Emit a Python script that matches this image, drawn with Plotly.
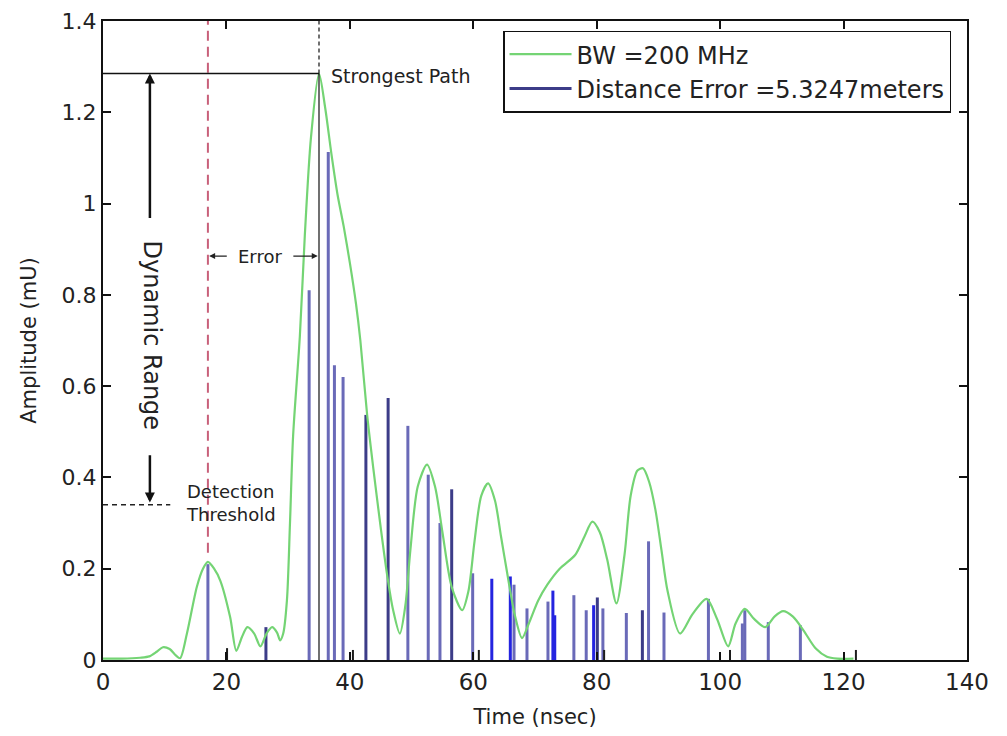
import plotly.graph_objects as go

# ---------------- data ----------------
# Green curve (BW = 200 MHz) knots
curve_t = [0, 3, 6, 7.5, 8.7, 9.7, 10.8, 11.8, 12.5, 13.6, 15.2, 16.2, 17.0, 18.0, 19.0,
           20.6, 21.6, 22.5, 23.4, 24.5, 25.5, 26.5, 27.4, 28.2, 28.7, 29.2, 29.8, 30.3,
           30.8, 31.9, 32.7, 33.7, 35.0, 36.0, 37.0, 38.0, 39.0, 40.0, 41.0, 41.7, 42.8,
           43.8, 45.0, 46.0, 47.0, 48.1, 49.0, 49.8, 51.0, 52.5, 53.8, 55.0, 56.5, 58.2,
           59.2, 60.2, 61.3, 62.4, 63.5, 64.5, 65.5, 66.7, 67.9, 69.0, 70.5, 72.0, 74.0,
           76.5, 78.0, 79.3, 80.5, 81.7, 83.2, 84.5, 85.5, 86.6, 87.5, 88.5, 89.5, 90.5,
           91.5, 93.5, 95.5, 97.8, 99.5, 101.3, 102.5, 104.0, 105.5, 107.3, 108.8, 110.2,
           111.8, 113.5, 115.5, 117.3, 119.0, 121.6]
curve_amp = [0.003, 0.003, 0.005, 0.008, 0.018, 0.028, 0.024, 0.01, 0.004, 0.058, 0.16, 0.2, 0.215, 0.2, 0.174,
             0.094, 0.02, 0.05, 0.072, 0.058, 0.03, 0.058, 0.072, 0.06, 0.043, 0.058, 0.13, 0.3,
             0.49, 0.71, 0.93, 1.145, 1.285, 1.21, 1.11, 1.02, 0.95, 0.87, 0.78, 0.70, 0.537,
             0.42, 0.29, 0.19, 0.11, 0.058, 0.12, 0.24, 0.38, 0.428, 0.38, 0.28, 0.16, 0.109,
             0.15, 0.26, 0.36, 0.387, 0.35, 0.27, 0.19, 0.1, 0.048, 0.08, 0.13, 0.165, 0.2,
             0.23, 0.27, 0.303, 0.28, 0.22, 0.124, 0.23, 0.36, 0.415, 0.42, 0.39, 0.33, 0.24,
             0.15, 0.058, 0.1, 0.134, 0.09, 0.03, 0.08, 0.112, 0.09, 0.072, 0.095, 0.107,
             0.095, 0.065, 0.025, 0.007, 0.003, 0.003]

# Multipath components (stems), grouped by the shade they have in the picture
stem_t_purple = [17.0, 33.4, 36.5, 37.5, 38.9, 49.4, 52.7, 54.6, 59.9, 66.6, 68.7, 72.1, 76.3,
                 78.3, 81.0, 84.8, 88.4, 90.9, 98.1, 103.6, 104.0, 107.8, 113.0]
stem_a_purple = [0.21, 0.81, 1.113, 0.646, 0.62, 0.513, 0.406, 0.30, 0.19, 0.165, 0.113, 0.128, 0.142,
                 0.109, 0.113, 0.103, 0.26, 0.104, 0.134, 0.08, 0.109, 0.083, 0.076]
stem_t_navy = [26.4, 42.6, 46.2, 56.5, 80.1, 87.4]
stem_a_navy = [0.072, 0.537, 0.574, 0.374, 0.137, 0.109]
stem_t_blue = [63.0, 66.0, 72.9, 73.2, 79.5]
stem_a_blue = [0.178, 0.183, 0.152, 0.098, 0.12]
stem_t_black = [20.1, 40.5, 60.9, 81.2, 101.6, 122.0]
stem_a_black = [0.026, 0.022, 0.022, 0.022, 0.022, 0.022]

x_ticks = [0, 20, 40, 60, 80, 100, 120, 140]
y_ticks = [0, 0.2, 0.4, 0.6, 0.8, 1.0, 1.2, 1.4]
y_tick_text = ["0", "0.2", "0.4", "0.6", "0.8", "1", "1.2", "1.4"]

first_path_t = 17.0
strongest_t = 35.0
strongest_amp = 1.285
threshold_amp = 0.34
threshold_end_t = 10.9
dyn_arrow_t = 7.6
error_level = 0.885

FONT = "DejaVu Sans"


def stem_xy(ts, amps):
    xs, ys = [], []
    for t, a in zip(ts, amps):
        xs += [t, t, None]
        ys += [0, a, None]
    return xs, ys


fig = go.Figure()

# stems
groups = [
    (stem_t_purple, stem_a_purple, "#6a6ab8", 3, False),
    (stem_t_blue, stem_a_blue, "#2424e0", 3, False),
    (stem_t_black, stem_a_black, "#1c1c1c", 2, False),
    (stem_t_navy, stem_a_navy, "#3c3c88", 3, True),
]
for ts, amps, col, w, leg in groups:
    sx, sy = stem_xy(ts, amps)
    fig.add_trace(go.Scatter(
        x=sx, y=sy, mode="lines", line=dict(color=col, width=w),
        name="Distance Error =5.3247meters", showlegend=leg,
        legendgroup="stems", legendrank=2, hoverinfo="skip"))

# green curve
fig.add_trace(go.Scatter(
    x=curve_t, y=curve_amp, mode="lines", line=dict(color="#74d474", width=2.2, shape="spline", smoothing=0.8),
    name="BW =200 MHz", legendgroup="bw", legendrank=1))

# red dashed first-path line
fig.add_trace(go.Scatter(x=[first_path_t, first_path_t], y=[0.235, 1.4], mode="lines",
                         line=dict(color="#c8607a", width=2, dash="10px,6px"), showlegend=False))
# strongest path markers
fig.add_trace(go.Scatter(x=[0, strongest_t], y=[strongest_amp, strongest_amp], mode="lines",
                         line=dict(color="#111", width=1.3), showlegend=False))
fig.add_trace(go.Scatter(x=[strongest_t, strongest_t], y=[0, strongest_amp], mode="lines",
                         line=dict(color="#111", width=1.2), showlegend=False))
fig.add_trace(go.Scatter(x=[strongest_t, strongest_t], y=[strongest_amp, 1.4], mode="lines",
                         line=dict(color="#111", width=1.2, dash="4px,3px"), showlegend=False))
# detection threshold
fig.add_trace(go.Scatter(x=[0, threshold_end_t], y=[threshold_amp, threshold_amp], mode="lines",
                         line=dict(color="#222", width=1.4, dash="5px,4px"), showlegend=False))

ann = []
# dynamic range arrows
ann.append(dict(x=dyn_arrow_t, y=strongest_amp, ax=dyn_arrow_t, ay=0.965, xref="x", yref="y",
                axref="x", ayref="y", text="", showarrow=True, arrowhead=2, arrowsize=0.8,
                arrowwidth=2.5, arrowcolor="#111"))
ann.append(dict(x=dyn_arrow_t, y=threshold_amp + 0.005, ax=dyn_arrow_t, ay=0.452, xref="x", yref="y",
                axref="x", ayref="y", text="", showarrow=True, arrowhead=2, arrowsize=0.8,
                arrowwidth=2.5, arrowcolor="#111"))
ann.append(dict(x=dyn_arrow_t + 0.4, y=0.71, xref="x", yref="y", text="Dynamic Range", textangle=90,
                showarrow=False, font=dict(family=FONT, size=24, color="#222")))
# error arrows
ann.append(dict(x=first_path_t + 0.2, y=error_level, ax=20.3, ay=error_level, xref="x", yref="y",
                axref="x", ayref="y", text="", showarrow=True, arrowhead=2, arrowsize=1,
                arrowwidth=1.2, arrowcolor="#222"))
ann.append(dict(x=strongest_t - 0.2, y=error_level, ax=30.6, ay=error_level, xref="x", yref="y",
                axref="x", ayref="y", text="", showarrow=True, arrowhead=2, arrowsize=1,
                arrowwidth=1.2, arrowcolor="#222"))
ann.append(dict(x=25.4, y=error_level, xref="x", yref="y", text="Error", showarrow=False,
                font=dict(family=FONT, size=18, color="#222")))
ann.append(dict(x=36.7, y=1.28, xref="x", yref="y", text="Strongest Path", showarrow=False,
                xanchor="left", font=dict(family=FONT, size=19, color="#222")))
ann.append(dict(x=13.2, y=0.345, xref="x", yref="y", text="Detection<br>Threshold", showarrow=False,
                xanchor="left", align="left", font=dict(family=FONT, size=18, color="#222")))

fig.update_layout(
    width=999, height=728,
    margin=dict(l=95, r=40, t=13, b=76, autoexpand=False),
    paper_bgcolor="white", plot_bgcolor="white",
    font=dict(family=FONT, color="#222"),
    annotations=ann,
    legend=dict(x=0.463, y=0.985, xanchor="left", yanchor="top", bgcolor="white",
                bordercolor="#111", borderwidth=1.5, font=dict(family=FONT, size=24, color="#222"),
                tracegroupgap=0, itemwidth=62),
    xaxis=dict(range=[0, 140], tickvals=x_ticks, ticks="inside", ticklen=8, tickwidth=1.5,
               tickcolor="#111", showline=True, linecolor="#111", linewidth=2, mirror="ticks",
               showgrid=False, zeroline=False, tickfont=dict(family=FONT, size=23, color="#222"),
               automargin=False, ticklabeloverflow="allow",
               title=dict(text="Time (nsec)", font=dict(family=FONT, size=21, color="#222"), standoff=16)),
    yaxis=dict(range=[0, 1.4], tickvals=y_ticks, ticktext=y_tick_text, ticks="inside", ticklen=8,
               tickwidth=1.5, tickcolor="#111", showline=True, linecolor="#111", linewidth=2,
               mirror="ticks", showgrid=False, zeroline=False, automargin=False,
               ticklabeloverflow="allow",
               tickfont=dict(family=FONT, size=22, color="#222"),
               title=dict(text="Amplitude (mU)", font=dict(family=FONT, size=21, color="#222"), standoff=19)),
)

fig.write_html("out.html")
